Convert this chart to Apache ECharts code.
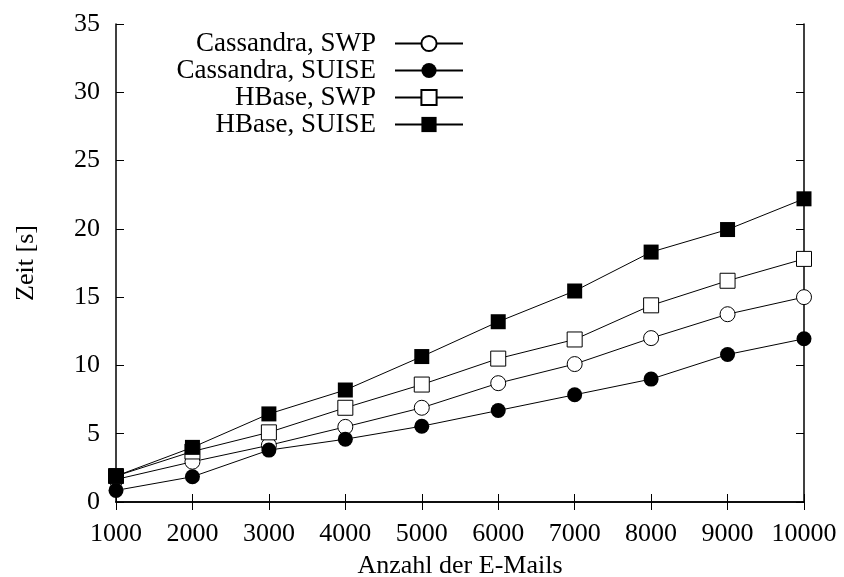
<!DOCTYPE html>
<html>
<head>
<meta charset="utf-8">
<script src="https://cdn.jsdelivr.net/npm/echarts@6/dist/echarts.min.js"></script>
<style>
  html, body { margin: 0; padding: 0; background: #fff; }
  #chart { width: 844px; height: 577px; }
</style>
</head>
<body>
<div id="chart"></div>
<script>
var emails = [1000, 2000, 3000, 4000, 5000, 6000, 7000, 8000, 9000, 10000];
var cassandraSwp = [1.65, 2.95, 4.15, 5.5, 6.9, 8.7, 10.1, 12.0, 13.75, 15.0];
var cassandraSuise = [0.85, 1.85, 3.8, 4.6, 5.55, 6.7, 7.85, 9.0, 10.8, 11.95];
var hbaseSwp = [1.9, 3.7, 5.1, 6.9, 8.6, 10.5, 11.9, 14.4, 16.2, 17.8];
var hbaseSuise = [1.9, 4.0, 6.45, 8.2, 10.65, 13.2, 15.45, 18.3, 19.95, 22.2];

var FONT = 'Liberation Serif';

function pairs(values) {
    var out = [];
    for (var i = 0; i < emails.length; i++) {
        out.push([emails[i], values[i]]);
    }
    return out;
}

function makeSeries(name, values, symbol, filled) {
    return {
        name: name,
        type: 'line',
        data: pairs(values),
        symbol: symbol,
        symbolSize: 15,
        showAllSymbol: true,
        lineStyle: { color: '#000', width: 1 },
        itemStyle: {
            color: filled ? '#000' : '#fff',
            borderColor: '#000',
            borderWidth: filled ? 0 : 1
        },
        emphasis: { disabled: true },
        z: 3
    };
}

var chart = echarts.init(document.getElementById('chart'));
var tickStyle = { show: true, inside: true, length: 8, lineStyle: { color: '#000', width: 1 } };
var lineStyle = { show: true, lineStyle: { color: '#000', width: 1.5 } };
var option = {
    animation: false,
    backgroundColor: '#fff',
    grid: { left: 116, right: 40, top: 24, bottom: 75, outerBoundsMode: 'none' },
    legend: {
        orient: 'vertical',
        align: 'right',
        right: 375,
        top: 25,
        itemWidth: 68,
        itemHeight: 19,
        itemGap: 0,
        textStyle: {
            fontFamily: FONT, fontSize: 27, lineHeight: 26, color: '#000',
            padding: [0, 14, 0, 0]
        },
        data: ['Cassandra, SWP', 'Cassandra, SUISE', 'HBase, SWP', 'HBase, SUISE']
    },
    xAxis: [{
        type: 'value',
        min: 1000,
        max: 10000,
        interval: 1000,
        name: 'Anzahl der E-Mails',
        nameLocation: 'middle',
        nameGap: 51,
        nameTextStyle: { fontFamily: FONT, fontSize: 26, color: '#000' },
        axisLine: lineStyle,
        axisTick: tickStyle,
        axisLabel: {
            fontFamily: FONT, fontSize: 26, color: '#000', margin: 19,
            formatter: function (v) { return String(v); }
        },
        splitLine: { show: false }
    }, {
        type: 'value',
        position: 'top',
        min: 1000,
        max: 10000,
        interval: 1000,
        axisLine: lineStyle,
        axisTick: tickStyle,
        axisLabel: { show: false },
        splitLine: { show: false }
    }],
    yAxis: [{
        type: 'value',
        min: 0,
        max: 35,
        interval: 5,
        name: 'Zeit [s]',
        nameLocation: 'middle',
        nameGap: 77,
        nameTextStyle: { fontFamily: FONT, fontSize: 26, color: '#000' },
        axisLine: lineStyle,
        axisTick: tickStyle,
        axisLabel: { fontFamily: FONT, fontSize: 26, color: '#000', margin: 16 },
        splitLine: { show: false }
    }, {
        type: 'value',
        position: 'right',
        min: 0,
        max: 35,
        interval: 5,
        axisLine: lineStyle,
        axisTick: tickStyle,
        axisLabel: { show: false },
        splitLine: { show: false }
    }],
    series: [
        makeSeries('Cassandra, SWP', cassandraSwp, 'circle', false),
        makeSeries('Cassandra, SUISE', cassandraSuise, 'circle', true),
        makeSeries('HBase, SWP', hbaseSwp, 'rect', false),
        makeSeries('HBase, SUISE', hbaseSuise, 'rect', true)
    ]
};
chart.setOption(option);
</script>
</body>
</html>
